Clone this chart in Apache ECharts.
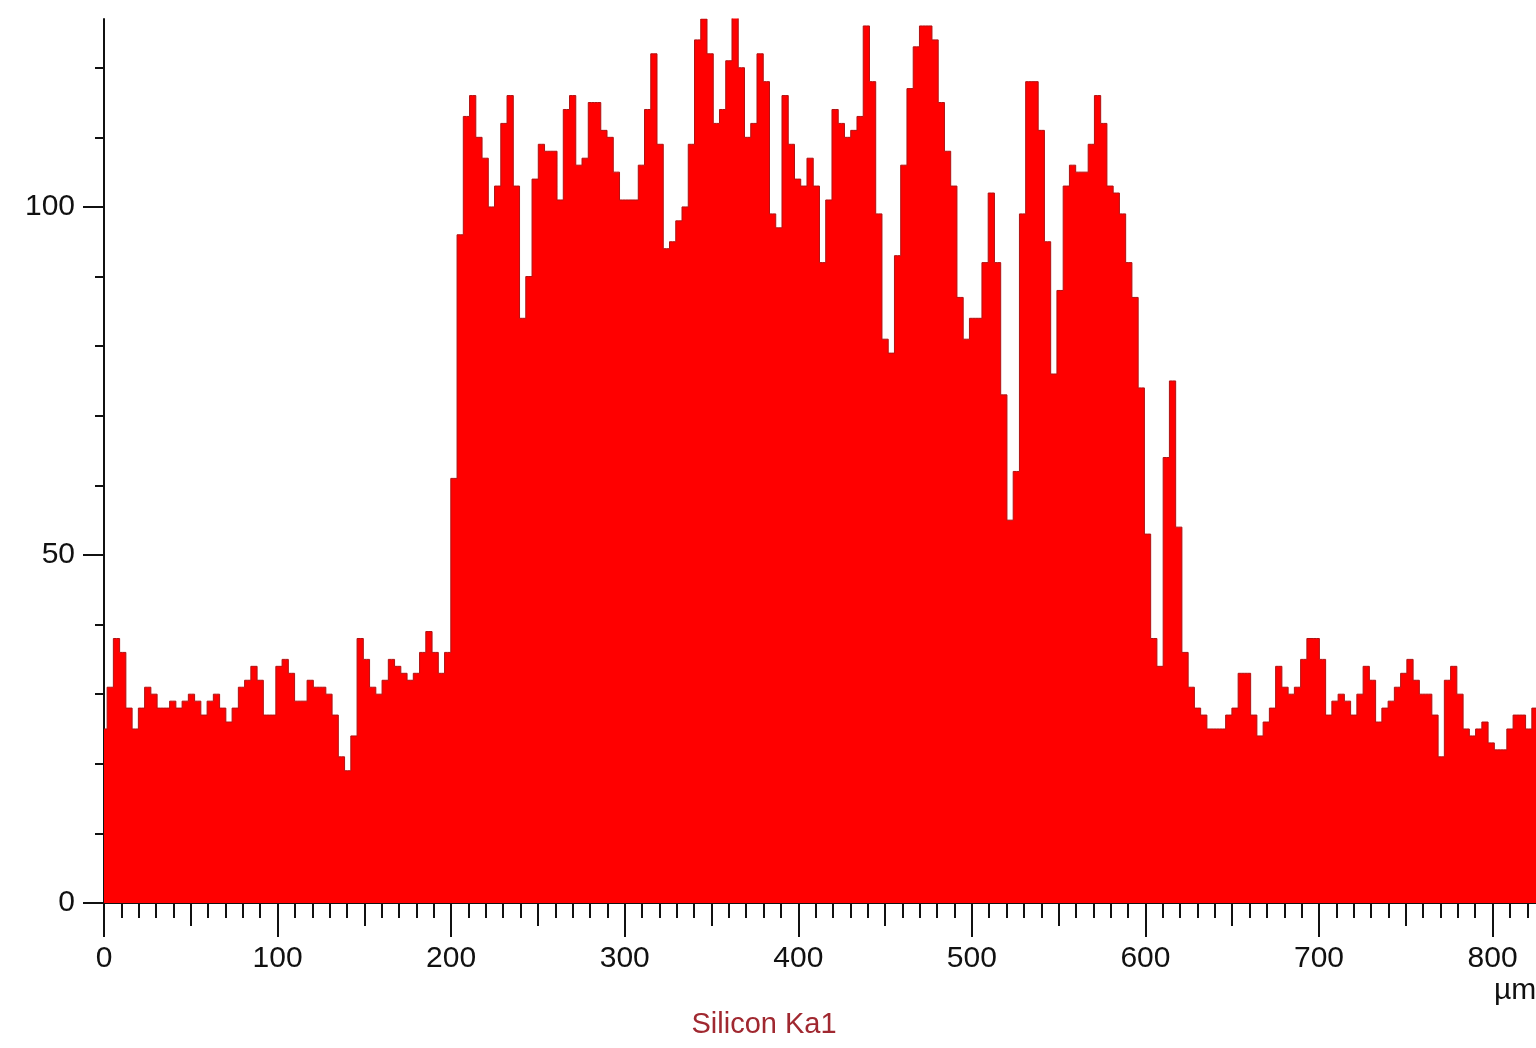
<!DOCTYPE html>
<html>
<head>
<meta charset="utf-8">
<title>Silicon Ka1 line scan</title>
<script src="https://cdn.jsdelivr.net/npm/echarts@6/dist/echarts.min.js"></script>
<style>
    html, body { margin: 0; padding: 0; background: #ffffff; }
    #chart { width: 1536px; height: 1048px; }
</style>
</head>
<body>
<div id="chart"></div>
<script>
    // line scan: one reading every STEP_UM micrometres, starting at 0
    var STEP_UM = 3.6;
    var siliconKa1 = [
        25, 31, 38, 36, 28, 25, 28, 31, 30, 28,
        28, 29, 28, 29, 30, 29, 27, 29, 30, 28,
        26, 28, 31, 32, 34, 32, 27, 27, 34, 35,
        33, 29, 29, 32, 31, 31, 30, 27, 21, 19,
        24, 38, 35, 31, 30, 32, 35, 34, 33, 32,
        33, 36, 39, 36, 33, 36, 61, 96, 113, 116,
        110, 107, 100, 103, 112, 116, 103, 84, 90, 104,
        109, 108, 108, 101, 114, 116, 106, 107, 115, 115,
        111, 110, 105, 101, 101, 101, 106, 114, 122, 109,
        94, 95, 98, 100, 109, 124, 127, 122, 112, 114,
        121, 128, 120, 110, 112, 122, 118, 99, 97, 116,
        109, 104, 103, 107, 103, 92, 101, 114, 112, 110,
        111, 113, 126, 118, 99, 81, 79, 93, 106, 117,
        123, 126, 126, 124, 115, 108, 103, 87, 81, 84,
        84, 92, 102, 92, 73, 55, 62, 99, 118, 118,
        111, 95, 76, 88, 103, 106, 105, 105, 109, 116,
        112, 103, 102, 99, 92, 87, 74, 53, 38, 34,
        64, 75, 54, 36, 31, 28, 27, 25, 25, 25,
        27, 28, 33, 33, 27, 24, 26, 28, 34, 31,
        30, 31, 35, 38, 38, 35, 27, 29, 30, 29,
        27, 30, 34, 32, 26, 28, 29, 31, 33, 35,
        32, 30, 30, 27, 21, 32, 34, 30, 25, 24,
        25, 26, 23, 22, 22, 25, 27, 27, 25, 28,
        28
    ];

    var xLabelTicks = [0, 100, 200, 300, 400, 500, 600, 700, 800];
    var xHalfTicks = [50, 150, 250, 350, 450, 550, 650, 750];
    var yLabelTicks = [0, 50, 100];

    var xMinorTicks = [];
    for (var t = 0; t <= 820; t += 10) {
        xMinorTicks.push(t);
    }
    var yMinorTicks = [];
    for (var u = 0; u <= 120; u += 10) {
        yMinorTicks.push(u);
    }

    var INK = '#111111';
    var FONT = '"Liberation Sans", Arial, sans-serif';

    var points = siliconKa1.map(function (v, i) {
        return [i * STEP_UM, v];
    });

    function tickAxis(values, len) {
        return {
            type: 'value',
            min: 0,
            max: 825,
            position: 'bottom',
            axisLine: {show: false},
            axisTick: {show: true, customValues: values, length: len, lineStyle: {color: INK, width: 2}},
            axisLabel: {show: false},
            splitLine: {show: false}
        };
    }

    var chart = echarts.init(document.getElementById('chart'), null, {renderer: 'canvas'});
    chart.setOption({
        animation: false,
        backgroundColor: '#ffffff',
        grid: {left: 104, right: 0, top: 19, bottom: 145},
        xAxis: [
            {
                type: 'value',
                min: 0,
                max: 825,
                position: 'bottom',
                axisLine: {show: true, onZero: false, lineStyle: {color: INK, width: 2}},
                axisTick: {show: true, customValues: xLabelTicks, length: 34, lineStyle: {color: INK, width: 2}},
                axisLabel: {customValues: xLabelTicks, margin: 41, fontFamily: FONT, fontSize: 30, color: INK},
                splitLine: {show: false}
            },
            tickAxis(xHalfTicks, 23),
            tickAxis(xMinorTicks, 15)
        ],
        yAxis: [
            {
                type: 'value',
                min: 0,
                max: 127,
                position: 'left',
                axisLine: {show: true, lineStyle: {color: INK, width: 2}},
                axisTick: {show: true, customValues: yLabelTicks, length: 21, lineStyle: {color: INK, width: 2}},
                axisLabel: {customValues: yLabelTicks, margin: 29, fontFamily: FONT, fontSize: 30, color: INK},
                splitLine: {show: false}
            },
            {
                type: 'value',
                min: 0,
                max: 127,
                position: 'left',
                axisLine: {show: false},
                axisTick: {show: true, customValues: yMinorTicks, length: 9, lineStyle: {color: INK, width: 2}},
                axisLabel: {show: false},
                splitLine: {show: false}
            }
        ],
        graphic: [
            {
                type: 'text',
                left: 1494,
                top: 976,
                style: {text: 'µm', fontFamily: FONT, fontSize: 30, fill: INK}
            },
            {
                type: 'text',
                x: 764,
                y: 1010,
                style: {text: 'Silicon Ka1', textAlign: 'center', textVerticalAlign: 'top',
                        fontFamily: FONT, fontSize: 29, fill: '#a02830'}
            }
        ],
        series: [
            {
                name: 'Silicon Ka1',
                type: 'line',
                step: 'middle',
                xAxisIndex: 0,
                yAxisIndex: 0,
                data: points,
                symbol: 'none',
                clip: true,
                lineStyle: {color: '#b01212', width: 1},
                areaStyle: {color: '#ff0000', opacity: 1}
            }
        ]
    });
</script>
</body>
</html>
